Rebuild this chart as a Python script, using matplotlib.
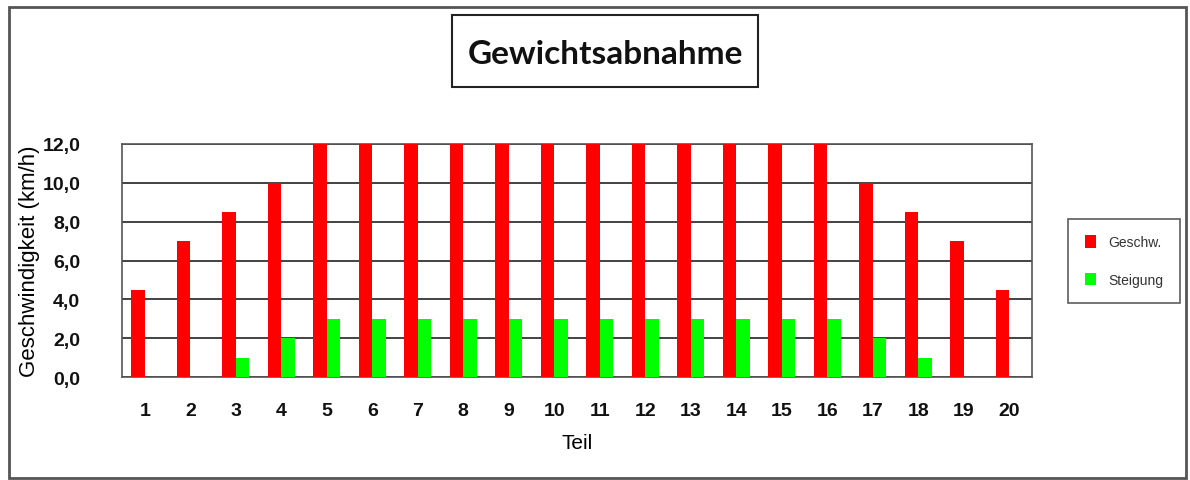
import numpy as np
import matplotlib
matplotlib.use('Agg')
import matplotlib.pyplot as plt
from matplotlib.patches import Rectangle

teil = [str(i) for i in range(1, 21)]
geschw = [4.5, 7.0, 8.5, 10.0, 12.0, 12.0, 12.0, 12.0, 12.0, 12.0,
          12.0, 12.0, 12.0, 12.0, 12.0, 12.0, 10.0, 8.5, 7.0, 4.5]
steigung = [0, 0, 1.0, 2.0, 3.0, 3.0, 3.0, 3.0, 3.0, 3.0,
            3.0, 3.0, 3.0, 3.0, 3.0, 3.0, 2.0, 1.0, 0, 0]
y_ticks = [0, 2, 4, 6, 8, 10, 12]

plt.rcParams['font.family'] = ['Liberation Sans', 'DejaVu Sans']

W, H = 1190, 481
fig = plt.figure(figsize=(W / 100, H / 100), dpi=100)
ax = fig.add_axes([122 / W, 1 - 378 / H, 910 / W, 233 / H])

x = np.arange(len(teil))
w = 0.3
ax.bar(x - w / 2, geschw, width=w, color='#ff0000', label='Geschw.', zorder=3)
ax.bar(x + w / 2, steigung, width=w, color='#00ff00', label='Steigung', zorder=3)

ax.set_xlim(-0.5, len(teil) - 0.5)
ax.set_ylim(0, 12)
ax.set_yticks(y_ticks)
ax.set_yticklabels([f'{v:.1f}'.replace('.', ',') for v in y_ticks],
                   fontsize=14, fontweight='bold', color='#111111')
ax.set_xticks(x)
ax.set_xticklabels(teil, fontsize=14, fontweight='bold', color='#111111')
ax.tick_params(axis='both', length=0)
ax.tick_params(axis='y', pad=30)
ax.tick_params(axis='x', pad=18)
ax.yaxis.grid(True, color='#222222', linewidth=1.2, zorder=1)
for s in ax.spines.values():
    s.set_color('#555555')
    s.set_linewidth(1.2)

ax.set_ylabel('Geschwindigkeit (km/h)', fontsize=16)
ax.yaxis.set_label_coords((40 - 122) / 910, 0.5)
ax.set_xlabel('Teil', fontsize=15, labelpad=10)

# title with box
fig.patches.append(Rectangle((452 / W, 1 - 88 / H), 306 / W, 72 / H,
                             transform=fig.transFigure, fill=True, fc='white',
                             ec='#222222', lw=1.5))
fig.text(605 / W, 1 - 54 / H, 'Gewichtsabnahme', fontsize=24, fontweight='bold',
         family=['Lato', 'DejaVu Sans'], ha='center', va='center', color='#111111')

leg = fig.legend(loc='center left', bbox_to_anchor=(1068 / W, 1 - 262 / H), fontsize=10,
                 frameon=True, fancybox=False, edgecolor='#333333',
                 handlelength=0.8, handleheight=1.0, labelspacing=1.7,
                 borderpad=1.2, handletextpad=0.9, borderaxespad=0)
leg.get_frame().set_linewidth(1.2)
for t in leg.get_texts():
    t.set_color('#333333')

# outer frame
fig.patches.append(Rectangle((9 / W, 2 / H), 1177 / W, 471 / H, transform=fig.transFigure,
                             fill=False, ec='#555555', lw=2))

fig.savefig('out.png', dpi=100)
